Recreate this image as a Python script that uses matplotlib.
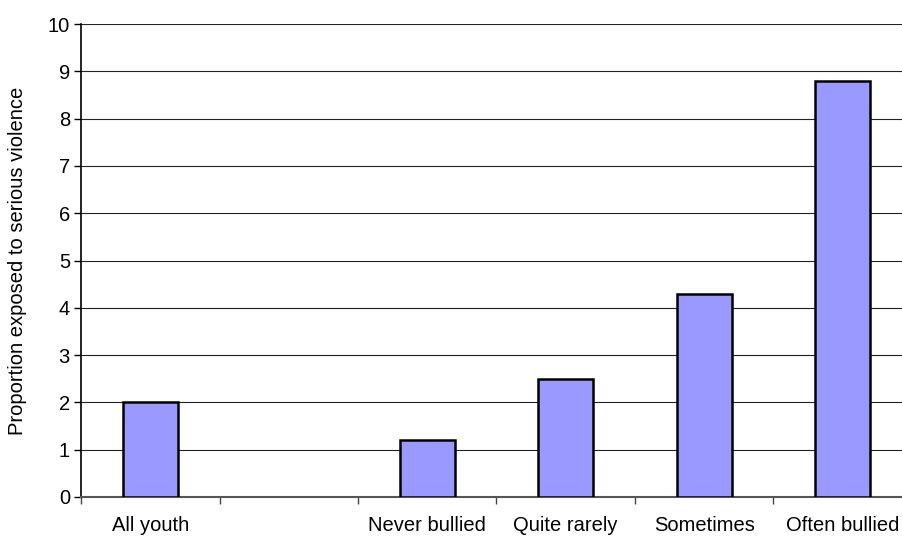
import numpy as np
import matplotlib
matplotlib.use('Agg')
import matplotlib.pyplot as plt

plt.rcParams['font.family'] = ['Liberation Sans', 'DejaVu Sans']

categories = ['All youth', '', 'Never bullied', 'Quite rarely', 'Sometimes', 'Often bullied']
values = [2.0, np.nan, 1.2, 2.5, 4.3, 8.8]
yticks = list(range(0, 11))

fig = plt.figure(figsize=(9.02, 5.38), dpi=100)
# axes runs a bit past the right edge, as in the original
ax = fig.add_axes([81 / 902, 1 - 497 / 538, (912 - 81) / 902, (497 - 24) / 538])

x = np.arange(len(categories))
ax.bar(x, values, width=0.4, color='#9999FF', edgecolor='black', linewidth=1.8, zorder=3)

ax.set_xlim(-0.5, len(categories) - 0.5)
ax.set_ylim(0, 10)
ax.set_yticks(yticks)
ax.set_yticklabels([str(t) for t in yticks], fontsize=14.5)

ax.set_xticks(x)
ax.set_xticklabels(categories, fontsize=14.5)
ax.tick_params(axis='x', which='major', length=0, pad=14)
ax.set_xticks(np.arange(-0.5, len(categories), 1), minor=True)
ax.tick_params(axis='x', which='minor', length=5, width=1, color='#444444')
ax.tick_params(axis='y', length=5, width=1, pad=3)

ax.grid(axis='y', color='#222222', linewidth=0.8, zorder=0)
for s in ['top', 'right']:
    ax.spines[s].set_visible(False)
ax.spines['left'].set_linewidth(1.2)
ax.spines['bottom'].set_color('#555555')
ax.spines['bottom'].set_linewidth(1.5)

ax.set_ylabel('Proportion exposed to serious violence', fontsize=14.5, labelpad=15)

fig.savefig('out.png', dpi=100)
